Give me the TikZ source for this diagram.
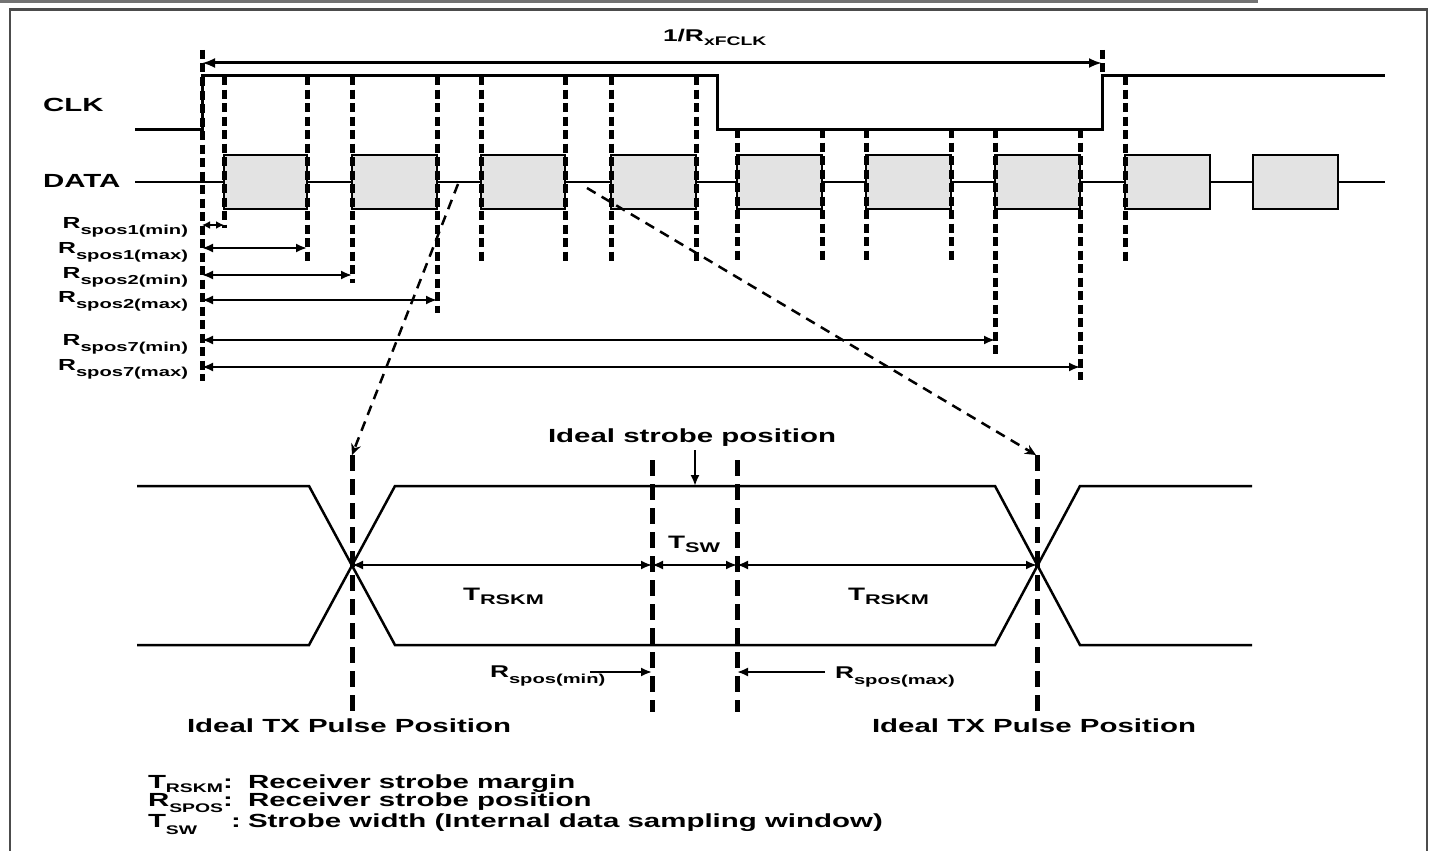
\documentclass[tikz,border=0pt]{standalone}
\usepackage{fontspec}
\setmainfont{Liberation Sans}[FakeStretch=1.55]
\usetikzlibrary{arrows.meta}
\newcommand\sbx[3]{\raisebox{-#1pt}{\fontsize{#2}{#2}\selectfont #3}}
\begin{document}
\begin{tikzpicture}[x=1pt,y=-1pt,
  every node/.style={inner sep=0pt, outer sep=0pt, font=\fontsize{19}{22}\selectfont\bfseries},
  lbl/.style={anchor=base west},
  frameln/.style={line width=2.5pt, black!70},
  clkln/.style={line width=3pt, line join=miter},
  sigln/.style={line width=2pt},
  databox/.style={draw, line width=2pt, fill=black!11},
  vdash/.style={line width=5pt, dash pattern=on 9pt off 4.5pt},
  ldash/.style={line width=5pt, dash pattern=on 16pt off 8pt},
  zoomln/.style={line width=2.5pt, dash pattern=on 10pt off 7pt, -{Stealth[length=11pt,width=10pt]}},
  dimln/.style={line width=2pt, {Latex[length=11pt,width=9pt]}-{Latex[length=11pt,width=9pt]}},
  shortdim/.style={line width=2pt, {Latex[length=8pt,width=8pt]}-{Latex[length=8pt,width=8pt]}},
  oneln/.style={line width=2pt, -{Latex[length=11pt,width=9pt]}},
  periodln/.style={line width=3pt, {Latex[length=13pt,width=10pt]}-{Latex[length=13pt,width=10pt]}},
  eyeln/.style={line width=2.5pt, line join=miter}
]
\useasboundingbox (0,0) rectangle (1435,851);
% frame
\draw[line width=3pt, black!55] (0,1.5) -- (1258,1.5);
\draw[frameln] (10,880) -- (10,9.5) -- (1427,9.5) -- (1427,880);

% DATA line and boxes
\draw[sigln] (135,182) -- (1385,182);
\foreach \a/\b [count=\i] in {224/307,352/437,481/565,611/696,737/822,866/951,995/1080,1125/1210,1253/1338}
  \draw[databox] (\a,155) rectangle (\b,209);

% dashed verticals (top)
\foreach \x/\t/\b in {224/76/228,307/76/265,352/76/283,437/76/313,481/76/262,565/76/262,611/76/262,696/76/262,737/129/262,822/129/262,866/129/262,951/129/262,995/129/356,1080/129/380,1125/76/262,202/50/381,1102/50/76}
  \draw[vdash] (\x,\t) -- (\x,\b);

% CLK
\draw[clkln] (135,129) -- (202,129) -- (202,76) -- (717,76) -- (717,129) -- (1102,129) -- (1102,76) -- (1385,76);

% period arrow
\coordinate (p0) at (202,63);
\coordinate (p1) at (1102,63);
\draw[periodln] (p0) -- (p1);
\node[lbl] (period) at (663,42) {\fontsize{17}{17}\selectfont 1/R\sbx{4}{12.5}{xFCLK}};

% signal labels
\node[lbl] (clk) at (43,111) {CLK};
\node[lbl] (data) at (43,187) {DATA};

% Rspos arrows and labels
\coordinate (rs1a) at (202,225);
\coordinate (rs1b) at (224,225);
\draw[shortdim] (rs1a) -- (rs1b);
\node[anchor=base east] (rsl1) at (188,228) {\fontsize{16}{16}\selectfont R\sbx{6}{13}{spos1(min)}};
\foreach \y/\e/\s/\by [count=\i from 2] in {248/307/spos1(max)/253,275/352/spos2(min)/278,300/437/spos2(max)/302,340/995/spos7(min)/345,367/1080/spos7(max)/370}{
  \coordinate (rs\i a) at (202,\y);
  \coordinate (rs\i b) at (\e,\y);
  \draw[dimln] (rs\i a) -- (rs\i b);
  \node[anchor=base east] (rsl\i) at (188,\by) {\fontsize{16}{16}\selectfont R\sbx{6}{13}{\s}};
}

% zoom lines
\coordinate (z1a) at (458,184);
\coordinate (z1b) at (352,455);
\coordinate (z2a) at (587,188);
\coordinate (z2b) at (1036,455);
\draw[zoomln] (z1a) -- (z1b);
\draw[zoomln] (z2a) -- (z2b);

% eye diagram
\draw[eyeln] (137,486) -- (309,486) -- (395,645) -- (995,645) -- (1080,486) -- (1252,486);
\draw[eyeln] (137,645) -- (309,645) -- (395,486) -- (995,486) -- (1080,645) -- (1252,645);

% bottom dashed verticals
\draw[ldash] (352,455) -- (352,712);
\draw[ldash] (652,460) -- (652,712);
\draw[ldash] (737,460) -- (737,712);
\draw[ldash] (1037,455) -- (1037,712);

% ideal strobe
\node[lbl] (strobe) at (548,442) {Ideal strobe position};
\coordinate (sa) at (695,450);
\coordinate (sb) at (695,486);
\draw[line width=2.5pt, -{Latex[length=11pt,width=9pt]}] (sa) -- (sb);

% margin arrows
\coordinate (m0) at (352,565);
\coordinate (m1) at (652,565);
\coordinate (m2) at (737,565);
\coordinate (m3) at (1037,565);
\draw[dimln] (m0) -- (m1);
\draw[dimln] (m1) -- (m2);
\draw[dimln] (m2) -- (m3);
\node[lbl] (trskm1) at (463,600) {\fontsize{18}{18}\selectfont T\sbx{4}{14}{RSKM}};
\node[lbl] (trskm2) at (848,600) {\fontsize{18}{18}\selectfont T\sbx{4}{14}{RSKM}};
\node[lbl] (tsw) at (668,548) {\fontsize{18}{18}\selectfont T\sbx{4}{14}{SW}};

% Rspos min/max
\coordinate (r0) at (590,672);
\coordinate (r1) at (652,672);
\coordinate (r2) at (825,672);
\coordinate (r3) at (737,672);
\draw[oneln] (r0) -- (r1);
\draw[oneln] (r2) -- (r3);
\node[lbl] (rmin) at (490,677) {\fontsize{17}{17}\selectfont R\sbx{6}{13}{spos(min)}};
\node[lbl] (rmax) at (835,678) {\fontsize{17}{17}\selectfont R\sbx{6}{13}{spos(max)}};

% ideal TX
\node[lbl] (tx1) at (187,732) {Ideal TX Pulse Position};
\node[lbl] (tx2) at (872,732) {Ideal TX Pulse Position};

% legend
\node[lbl] (lg1s) at (148,788) {T\sbx{4}{12.5}{RSKM}:};
\node[lbl] (lg1t) at (248,788) {Receiver strobe margin};
\node[lbl] (lg2s) at (148,806) {R\sbx{6}{12.5}{SPOS}:};
\node[lbl] (lg2t) at (248,806) {Receiver strobe position};
\node[lbl] (lg3s) at (148,827) {T\sbx{7}{12.5}{SW}};
\node[lbl] (lg3c) at (231,827) {:};
\node[lbl] (lg3t) at (248,827) {Strobe width (Internal data sampling window)};
\end{tikzpicture}
\end{document}
